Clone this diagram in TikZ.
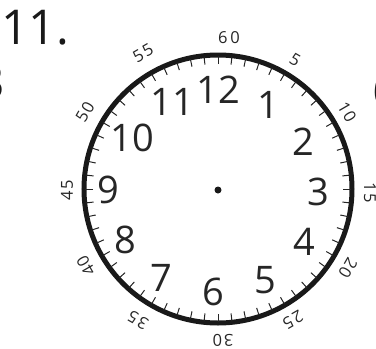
\documentclass[tikz,border=0pt]{standalone}
\usepackage{fontspec}
\setmainfont{Open Sans}
\usetikzlibrary{calc}
\begin{document}
\begin{tikzpicture}[x=1pt,y=-1pt,
  hr/.style={font=\fontsize{38}{38}\selectfont, inner sep=0pt, text=black!85},
  mn/.style={font=\fontsize{16.5}{16.5}\selectfont\addfontfeature{LetterSpace=10}, inner sep=0pt, text=black!85},
  big/.style={font=\fontsize{48}{48}\selectfont, inner sep=0pt, text=black!90},
  minutetick/.style={line width=1pt, black!85},
  rim/.style={line width=5pt, black!90}]
\useasboundingbox (0,0) rectangle (376,349);
\coordinate (c) at (218,189);
% title and edge fragments
\node[big] (title) at (35,28) {11.};
\node[big] (fragL) at (-9,82) {3};
\node[big] (fragR) at (386,90) {6};
% rim
\draw[rim] (c) circle[radius=134pt];
% ticks
\foreach \m in {0,...,59}{
  \draw[minutetick] ($(c)+({90-6*\m}:125pt)$) -- ($(c)+({90-6*\m}:133pt)$);
}
\fill[black!90] (218,190) circle[radius=3.5pt];
% hour numbers
\node[hr] (h12) at (218,90) {12};
\node[hr] (h1) at (268,105) {1};
\node[hr] (h2) at (303,142) {2};
\node[hr] (h3) at (318,192) {3};
\node[hr] (h4) at (304,242) {4};
\node[hr] (h5) at (265,280) {5};
\node[hr] (h6) at (213,292) {6};
\node[hr] (h7) at (161,278) {7};
\node[hr] (h8) at (125,240) {8};
\node[hr] (h9) at (108,190) {9};
\node[hr] (h10) at (132,138) {10};
\node[hr] (h11) at (172,102) {11};
% minute labels
\node[mn, rotate=0] (m60) at (229,38) {6\hspace{3pt}0};
\node[mn, rotate=-30] (m5) at (295,60) {5};
\node[mn, rotate=-60] (m10) at (347,112) {10};
\node[mn, rotate=-90] (m15) at (370,193) {15};
\node[mn, rotate=-120] (m20) at (348,268) {20};
\node[mn, rotate=-150] (m25) at (293,320) {25};
\node[mn, rotate=-180] (m30) at (223,340) {30};
\node[mn, rotate=-210] (m35) at (138,320) {35};
\node[mn, rotate=-240] (m40) at (86,266) {40};
\node[mn, rotate=-270] (m45) at (67,190) {45};
\node[mn, rotate=-300] (m50) at (85,112) {50};
\node[mn, rotate=-330] (m55) at (143,53) {55};
\end{tikzpicture}
\end{document}
